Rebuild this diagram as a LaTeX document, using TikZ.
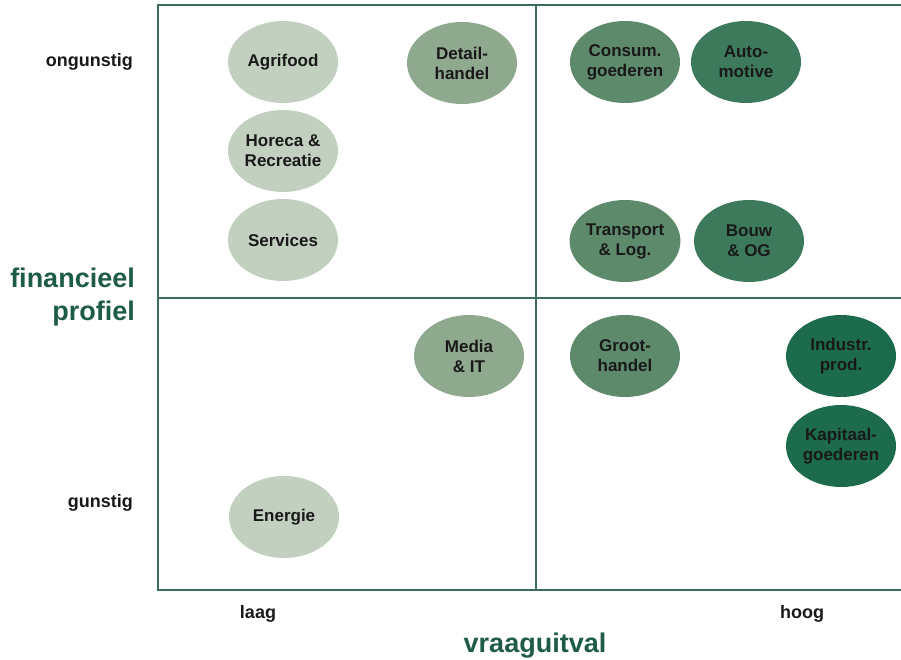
\documentclass[tikz,border=0pt]{standalone}
\usepackage{fontspec}
\setmainfont{Liberation Sans}
\usetikzlibrary{shapes.geometric}
\definecolor{frame}{HTML}{3B6B5C}
\definecolor{titlegreen}{HTML}{1E5C46}
\definecolor{secA}{HTML}{C2D0C0}
\definecolor{secB}{HTML}{8FA98F}
\definecolor{secC}{HTML}{5E8A6C}
\definecolor{secD}{HTML}{3D7A5C}
\definecolor{secE}{HTML}{1C6B4C}
\tikzset{
	sector/.style={ellipse, minimum width=110pt, minimum height=82pt, inner sep=0pt, align=center, text=black!90, font=\bfseries\fontsize{17}{20}\selectfont},
	axislabel/.style={font=\bfseries\fontsize{18}{21}\selectfont, text=black!90, inner sep=0pt},
	axistitle/.style={font=\bfseries\fontsize{27}{33}\selectfont, text=titlegreen, inner sep=0pt}
}
\begin{document}
\begin{tikzpicture}[x=1pt, y=-1pt]
		\useasboundingbox (0, 0) rectangle (901, 660);
		% kader en kwadranten
		\draw[frame, line width=1.2pt] (902, 5) -- (158, 5) -- (158, 590) -- (902, 590);
		\draw[frame, line width=1.2pt] (536, 5) -- (536, 590);
		\draw[frame, line width=1.2pt] (158, 298) -- (902, 298);
		% assen
		\node[axislabel, anchor=east] (ongunstig) at (133, 62) {ongunstig};
		\node[axislabel, anchor=east] (gunstig) at (133, 503) {gunstig};
		\node[axistitle, anchor=east, align=right] (profiel) at (135, 297) {financieel\\profiel};
		\node[axislabel] (laag) at (258, 614) {laag};
		\node[axislabel] (hoog) at (802, 614) {hoog};
		\node[axistitle] (vraaguitval) at (535, 646) {vraaguitval};
		% linksboven
		\node[sector, fill=secA] (agrifood) at (283, 62) {Agrifood};
		\node[sector, fill=secA] (horeca) at (283, 151) {Horeca \&\\Recreatie};
		\node[sector, fill=secA] (services) at (283, 240) {Services};
		\node[sector, fill=secB] (detail) at (462, 63) {Detail-\\handel};
		% rechtsboven
		\node[sector, fill=secC] (consum) at (625, 62) {Consum.\\goederen};
		\node[sector, fill=secD] (auto) at (746, 62) {Auto-\\motive};
		\node[sector, fill=secC] (transport) at (625, 241) {Transport\\\& Log.};
		\node[sector, fill=secD] (bouw) at (749, 241) {Bouw\\\& OG};
		% linksonder
		\node[sector, fill=secB] (media) at (469, 356) {Media\\\& IT};
		\node[sector, fill=secA] (energie) at (284, 517) {Energie};
		% rechtsonder
		\node[sector, fill=secC] (groot) at (625, 356) {Groot-\\handel};
		\node[sector, fill=secE] (industr) at (841, 356) {Industr.\\prod.};
		\node[sector, fill=secE] (kapitaal) at (841, 446) {Kapitaal-\\goederen};
\end{tikzpicture}
\end{document}
